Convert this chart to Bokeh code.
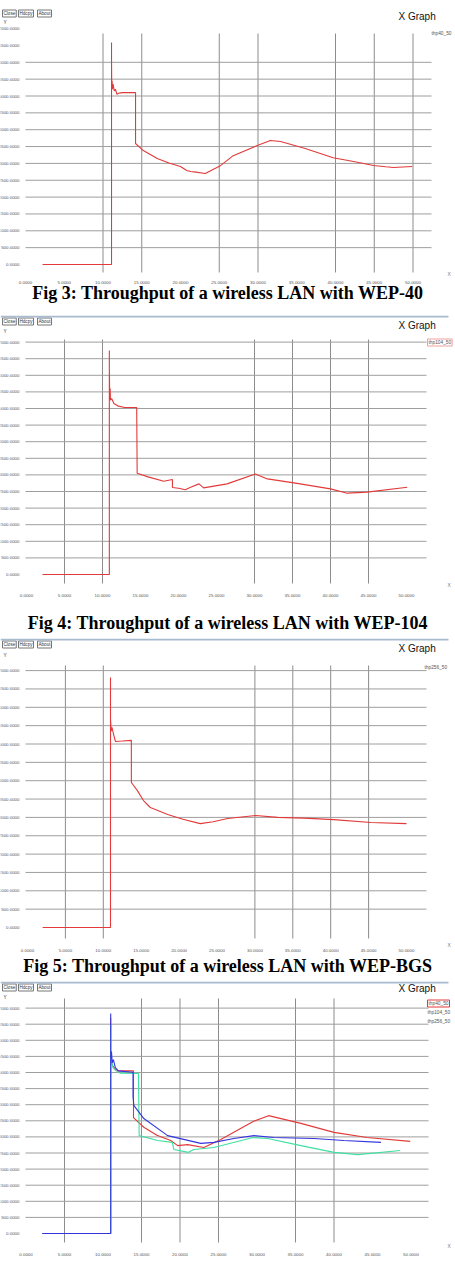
from bokeh.plotting import figure
from bokeh.layouts import column
from bokeh.models import Label, FixedTicker, PrintfTickFormatter, BoxAnnotation
from bokeh.embed import file_html
from bokeh.resources import INLINE

# ---------------- data ----------------
X_TICKS = [0, 5, 10, 15, 20, 25, 30, 35, 40, 45, 50]
Y_TICKS = [0, 500, 1000, 1500, 2000, 2500, 3000, 3500, 4000, 4500, 5000, 5500, 6000, 6500, 7000]

# Fig 3: WEP-40
wep40_t = [2.2, 11.1, 11.1, 11.1, 11.13, 11.17, 11.22, 11.3, 11.45, 11.6, 11.8, 12.0, 12.5, 14.2, 14.2,
           15.2, 17.0, 18.5, 20.0, 20.8, 21.3, 22.0, 23.2, 25.2, 26.8, 29.9, 31.6, 32.9, 36.0, 39.7, 42.5,
           44.9, 46.5, 47.5, 49.9]
wep40_v = [0, 0, 6590, 6050, 5300, 5450, 5200, 5350, 5150, 5200, 5050, 5080, 5100, 5100, 3590,
           3380, 3145, 3010, 2910, 2790, 2760, 2740, 2700, 2940, 3230, 3530, 3680, 3650, 3450, 3170, 3050,
           2940, 2900, 2880, 2910]

# Fig 4: WEP-104
wep104_t = [2.1, 10.9, 10.9, 10.9, 10.95, 11.0, 11.05, 11.2, 11.5, 12.0, 12.9, 14.5, 14.56,
            16.0, 18.07, 19.2, 19.2, 20.0, 20.9, 21.6, 22.7, 23.3, 26.4, 30.1, 31.7, 35.2, 40.0,
            42.2, 44.8, 50.1]
wep104_v = [0, 0, 6747, 6200, 5400, 5600, 5250, 5300, 5150, 5080, 5030, 5030, 3051,
            2940, 2810, 2860, 2620, 2600, 2550, 2630, 2730, 2610, 2730, 3030, 2880, 2760, 2580,
            2450, 2480, 2630]

# Fig 5: WEP-BGS
bgs_t = [2.0, 10.95, 10.95, 10.95, 11.0, 11.05, 11.15, 11.3, 11.6, 12.5, 13.7, 13.7, 14.5, 15.3, 16.2,
         18.5, 20.5, 22.8, 24.5, 26.4, 30.1, 33.0, 36.5, 40.4, 45.3, 50.0]
bgs_v = [0, 0, 6812, 5695, 5500, 5350, 5450, 5313, 5068, 5080, 5100, 3950, 3730, 3460, 3270,
         3080, 2950, 2830, 2880, 2970, 3050, 3000, 2980, 2940, 2860, 2830]

# Fig 6: comparison
cmp40_t = [2.1, 11.0, 11.0, 11.0, 11.1, 11.3, 11.6, 12.0, 13.96, 13.96, 15.3, 17.0, 18.8, 19.7,
           21.0, 23.1, 25.3, 29.5, 31.5, 35.7, 40.0, 44.3, 49.9]
cmp40_v = [0, 0, 6700, 5600, 5300, 5200, 5100, 5050, 5050, 3600, 3300, 3050, 2890, 2730,
           2760, 2670, 2920, 3480, 3660, 3420, 3140, 2980, 2860]
cmp104_t = [2.1, 11.0, 11.0, 11.0, 11.1, 11.3, 11.7, 12.2, 14.6, 14.7, 17.1, 19.0, 19.2, 21.1,
            21.8, 24.4, 29.5, 31.4, 35.7, 40.0, 43.1, 48.6]
cmp104_v = [0, 0, 6500, 5500, 5350, 5150, 5050, 4980, 4970, 3040, 2890, 2830, 2610, 2520,
            2610, 2670, 2980, 2950, 2730, 2520, 2450, 2580]
cmp256_t = [2.1, 11.0, 11.0, 11.0, 11.05, 11.1, 11.2, 11.35, 11.6, 12.0, 13.9, 13.9, 14.0, 15.3,
            18.4, 22.7, 24.4, 27.0, 29.6, 32.2, 37.4, 41.3, 46.1]
cmp256_v = [0, 0, 6830, 5700, 5450, 5650, 5300, 5400, 5150, 5050, 5010, 4250, 3980, 3570,
            3040, 2800, 2830, 2950, 3040, 2980, 2950, 2890, 2830]

captions = ["Fig 3: Throughput of a wireless LAN with WEP-40",
            "Fig 4: Throughput of a wireless LAN with WEP-104",
            "Fig 5: Throughput of a wireless LAN with WEP-BGS",
            "Fig 6: Comparison of WEP-40, WEP-104 and WEP-BGS"]
legend_names = ["thp40_50", "thp104_50", "thp256_50"]
buttons = ["Close", "Hdcpy", "About"]

RED = "#e23a3a"
GREEN = "#3ee0a0"
BLUE = "#3535e0"
GRID = "#8c8c8c"
HGRID = "#9e9e9e"
SMALL_FONT = "Liberation Sans"


def make_panel(H, x0px, ppu, y0py, px_per500, frame, strong_x, ygrid,
               series, legend, caption, cap_base, top_border=True, hdr=(6, 16, 10), xlab_y=None,
               x_standoff=4):
    """One screenshot panel; the plotting frame covers the whole canvas and
    the axes are pinned at the graph's own left/bottom edges."""
    ppv = px_per500 / 500.0
    fl, fr, ft, fb = frame
    xr = (-x0px / ppu, (455 - x0px) / ppu)
    yr = ((y0py - H) / ppv, y0py / ppv)
    p = figure(width=455, height=H, x_range=xr, y_range=yr, title=None,
               output_backend="svg", toolbar_location=None,
               min_border=0, min_border_left=0, min_border_right=0,
               min_border_top=0, min_border_bottom=0)
    p.outline_line_color = None
    p.background_fill_color = "white"
    p.border_fill_color = "white"
    p.grid.visible = False

    # graph-area extents in data units
    gx0, gx1 = (fl - x0px) / ppu, (fr - x0px) / ppu
    gy0, gy1 = (y0py - fb) / ppv, (y0py - ft) / ppv

    for ax in (p.xaxis[0], p.yaxis[0]):
        ax.axis_line_color = None
        ax.major_tick_line_color = None
        ax.minor_tick_line_color = None
        ax.major_label_text_font = SMALL_FONT
        ax.major_label_text_font_size = "4.4px"
        ax.major_label_text_color = "#555555"
        ax.formatter = PrintfTickFormatter(format="%.4f")
    p.xaxis.ticker = FixedTicker(ticks=X_TICKS)
    p.yaxis.ticker = FixedTicker(ticks=Y_TICKS)
    p.xaxis.fixed_location = gy0
    p.yaxis.fixed_location = (fl + 1 - x0px) / ppu
    p.xaxis.major_label_standoff = x_standoff
    p.yaxis.major_label_standoff = 1

    # grid lines limited to the graph area
    p.segment(x0=strong_x, x1=strong_x, y0=[gy0] * len(strong_x), y1=[gy1] * len(strong_x),
              line_color=GRID, line_width=1)
    p.segment(x0=[gx0] * len(ygrid), x1=[gx1] * len(ygrid), y0=ygrid, y1=ygrid,
              line_color=HGRID, line_width=1)

    for (t, v, c) in series:
        p.line(t, v, line_color=c, line_width=1.1)

    def lab(px, py, text, size="4.8px", font=SMALL_FONT, color="#333333",
            align="left", border=None, style="normal", baseline="middle"):
        l = Label(x=px, y=H - py, x_units="screen", y_units="screen",
                  text=text, text_font=font, text_font_size=size, text_color=color,
                  text_align=align, text_baseline=baseline, text_font_style=style)
        if border:
            l.border_line_color = border
            l.border_line_width = 1
            l.padding = 1
        p.add_layout(l)

    by, yy, xgy = hdr
    for b, bx in zip(buttons, [2, 18, 37]):
        lab(bx, by, b, size="4.6px", border="#777777")
    lab(3, yy, "Y")
    lab(398, xgy, "X Graph", size="10px", color="#111111")
    for (lx, ly, name, bc) in legend:
        lab(lx, ly, name, border=bc, color="#555555")
    if xlab_y is not None:
        lab(447, xlab_y, "X", color="#777777")
    lab(227.5, cap_base, caption, size="18px", font="Liberation Serif", color="#000000",
        align="center", style="bold", baseline="alphabetic")
    if top_border:
        p.add_layout(BoxAnnotation(left=0, right=448, top=H, bottom=H - 2,
                                   left_units="screen", right_units="screen",
                                   top_units="screen", bottom_units="screen",
                                   fill_color="#a9bccf", fill_alpha=1.0, line_color=None))
    return p


YG_ALL = Y_TICKS[1:]

p1 = make_panel(315, 25, 7.75, 264, 16.85, (25, 431, 33, 272),
                [10, 15, 25, 30, 40, 45, 50], YG_ALL[:-2],
                [(wep40_t, wep40_v, RED)],
                [(431, 33, legend_names[0], None)],
                captions[0], 292.5, top_border=False, hdr=(13, 22, 16), xlab_y=274, x_standoff=2)

p2 = make_panel(323, 26, 7.6, 574 - 315, 16.6, (25, 426, 24, 268),
                [5, 10, 30, 35, 40, 45], YG_ALL,
                [(wep104_t, wep104_v, RED)],
                [(427, 27, legend_names[1], "#f0a0a0")],
                captions[1], 307, hdr=(6, 16, 10), xlab_y=270)

p3 = make_panel(343, 27, 7.58, 927 - 638, 18.35, (25, 426, 27, 300),
                [5, 10, 30, 35, 40, 45], YG_ALL,
                [(bgs_t, bgs_v, RED)],
                [(424, 29, legend_names[2], None)],
                captions[2], 327, hdr=(6, 17, 10), xlab_y=307)

p4 = make_panel(287, 25.5, 7.7, 1233 - 981, 16.1, (25, 428, 17, 261),
                [5, 15, 20, 25, 35, 40], YG_ALL,
                [(cmp40_t, cmp40_v, RED), (cmp104_t, cmp104_v, GREEN), (cmp256_t, cmp256_v, BLUE)],
                [(427, 22, legend_names[0], RED), (427, 31, legend_names[1], None),
                 (427, 40, legend_names[2], None)],
                captions[3], 298, hdr=(6, 16, 7), xlab_y=265)

layout = column(p1, p2, p3, p4, spacing=0)
open("out.html", "w").write(file_html(layout, INLINE))
